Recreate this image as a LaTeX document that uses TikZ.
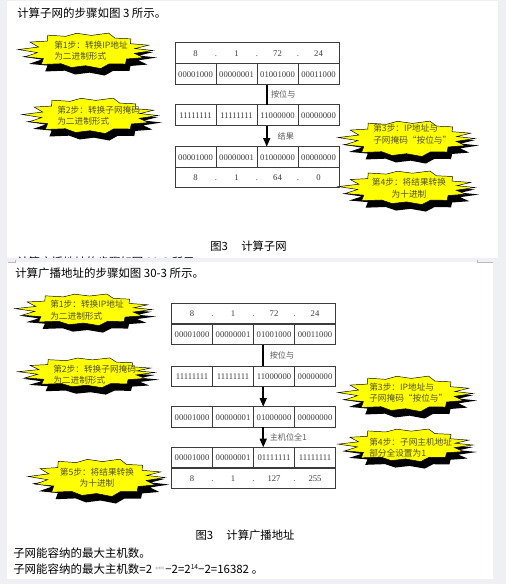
\documentclass[tikz,border=0pt]{standalone}
\usepackage{fontspec}
\setmainfont{Liberation Serif}
\newfontfamily\cjk{Noto Sans CJK SC}
\usetikzlibrary{arrows.meta,calc}
\definecolor{pagegray}{RGB}{238,240,244}
\definecolor{starfill}{RGB}{255,255,0}
\definecolor{startext}{RGB}{80,80,40}
\definecolor{tabline}{RGB}{60,60,60}
\definecolor{tabtext}{RGB}{60,60,60}
\definecolor{labelgray}{RGB}{90,90,90}
\definecolor{markgray}{RGB}{185,185,185}

\newcommand\sealshape[1]{%
  \path[#1] (0:0.50) -- (12:0.37) -- (24:0.47) -- (37:0.38) -- (51:0.47) -- (64:0.40)
   -- (77:0.50) -- (90:0.41) -- (103:0.47) -- (117:0.40) -- (131:0.50) -- (145:0.38)
   -- (159:0.48) -- (171:0.36) -- (183:0.50) -- (195:0.36) -- (209:0.47) -- (222:0.38)
   -- (236:0.50) -- (249:0.41) -- (262:0.47) -- (276:0.41) -- (290:0.50) -- (303:0.40)
   -- (317:0.46) -- (331:0.38) -- (343:0.49) -- (352:0.37) -- cycle;}
% #1 name, #2 x, #3 y, #4 w, #5 h
\newcommand\explosion[5]{%
  \begin{scope}[shift={({#2+#4/2+4},{#3+#5/2+7})},xscale=#4,yscale=#5]
    \sealshape{fill=black}
  \end{scope}
  \begin{scope}[shift={({#2+#4/2},{#3+#5/2})},xscale=#4,yscale=#5]
    \sealshape{fill=starfill,draw=black,line width=0.35pt}
  \end{scope}
  \coordinate (#1) at ({#2+#4/2},{#3+#5/2});
}
% binary row: #1 name, #2 x, #3 y, #4-#7 bytes
\newcommand\binrow[7]{%
  \node[cell] (#1-1) at (#2,#3) {#4};
  \node[cell] (#1-2) at ({#2+41},#3) {#5};
  \node[cell] (#1-3) at ({#2+82},#3) {#6};
  \node[cell] (#1-4) at ({#2+123},#3) {#7};
}
% decimal row
\newcommand\decrow[7]{%
  \node[decbox] (#1) at (#2,#3) {};
  \node[dtxt] (#1-1) at ($(#1.west)+(20.5,0)$) {#4};
  \node[dtxt] (#1-d1) at ($(#1.west)+(41,0)$) {.};
  \node[dtxt] (#1-2) at ($(#1.west)+(61.5,0)$) {#5};
  \node[dtxt] (#1-d2) at ($(#1.west)+(82,0)$) {.};
  \node[dtxt] (#1-3) at ($(#1.west)+(102.5,0)$) {#6};
  \node[dtxt] (#1-d3) at ($(#1.west)+(123,0)$) {.};
  \node[dtxt] (#1-4) at ($(#1.west)+(143.5,0)$) {#7};
}

\begin{document}
\begin{tikzpicture}[x=0.75pt,y=-0.75pt,
  cell/.style={draw=tabline,line width=0.75pt,minimum width=30.75pt,minimum height=15.4pt,
    inner sep=0pt,outer sep=0pt,anchor=north west,text=tabtext,
    font=\fontsize{6.5pt}{7pt}\selectfont,text height=4.6pt,text depth=0pt},
  decbox/.style={draw=tabline,line width=0.75pt,minimum width=123pt,minimum height=15.4pt,
    inner sep=0pt,outer sep=0pt,anchor=north west},
  dtxt/.style={inner sep=0pt,text=tabtext,font=\fontsize{6.5pt}{7pt}\selectfont,
    text height=4.6pt,text depth=0pt},
  link/.style={line width=1.3pt,black},
  tip/.style={-{Triangle[length=6.5pt,width=5.2pt]}},
  lbl/.style={midway,anchor=west,inner sep=0pt,text=labelgray,
    font=\cjk\fontsize{6.1pt}{7pt}\selectfont},
  startxt/.style={inner sep=0pt,text=startext,anchor=west,align=left,
    font=\cjk\fontsize{6.5pt}{8.6pt}\selectfont},
  starctr/.style={startxt,anchor=center,align=center},
  body/.style={inner sep=0pt,anchor=west,text=black,font=\cjk\fontsize{8.6pt}{10pt}\selectfont},
  captxt/.style={inner sep=0pt,text=black,font=\cjk\fontsize{8.5pt}{10pt}\selectfont}
]
\useasboundingbox (0,0) rectangle (506,584);
% page background
\fill[pagegray] (0,0) rectangle (506,584);
\fill[white] (7,1) rectangle (498,258);
\fill[white] (7,262) rectangle (493,579);
\draw[markgray,line width=0.5pt] (15,259.5) -- (15,262.3) -- (8,262.3);
\draw[markgray,line width=0.5pt] (477,259.5) -- (477,262.3) -- (493,262.3);
% partly hidden line between the pages
\begin{scope}
  \clip (7,250) rectangle (300,257.6);
  \node[body] (ghost) at (17,262.6) {计算广播地址的步骤如图 30-3 所示。};
\end{scope}

% ================= panel 1 =================
\node[body] (intro1) at (17,12.8) {计算子网的步骤如图 3 所示。};

\explosion{s1a}{18}{32}{135}{37}
\explosion{s1b}{22}{97}{136}{37}
\explosion{s1c}{338}{120}{137}{37}
\explosion{s1d}{338}{170}{137}{35}
\node[startxt] (s1at) at (54,50.5) {第1步：转换IP地址\\为二进制形式};
\node[startxt] (s1bt) at (57,115.5) {第2步：转换子网掩码\\为二进制形式};
\node[startxt] (s1ct) at (373,134) {第3步：IP地址与\\子网掩码“按位与”};
\node[starctr] (s1dt) at (409,188) {第4步：将结果转换\\为十进制};

\decrow{t1d}{175}{43}{8}{1}{72}{24}
\binrow{t1b}{175}{64}{00001000}{00000001}{01001000}{00011000}
\binrow{t2}{175}{105}{11111111}{11111111}{11000000}{00000000}
\binrow{t3b}{175}{146.7}{00001000}{00000001}{01000000}{00000000}
\decrow{t3d}{175}{167.3}{8}{1}{64}{0}

\draw[link] ([xshift=7.3pt]t1b-3.south west) -- node[lbl,xshift=2.6pt] (l1) {按位与} ([xshift=7.3pt]t2-3.north west);
\draw[link,tip] ([xshift=7.3pt]t2-3.south west) -- node[lbl,xshift=7.6pt] (l2) {结果} ([xshift=7.3pt]t3b-3.north west);

\node[captxt] (cap1) at (248.5,245.7) {图3\hspace{10pt}计算子网};

% ================= panel 2 =================
\node[body] (intro2) at (15,273) {计算广播地址的步骤如图 30-3 所示。};

\explosion{s2a}{15}{293}{137}{33}
\explosion{s2b}{18}{357}{137}{31}
\explosion{s2c}{338}{375}{135}{37}
\explosion{s2d}{338}{428}{135}{34}
\explosion{s2e}{28}{458}{137}{39}
\node[startxt] (s2at) at (50,310.4) {第1步：转换IP地址\\为二进制形式};
\node[startxt] (s2bt) at (53,374.5) {第2步：转换子网掩码\\为二进制形式};
\node[startxt] (s2ct) at (369,392.5) {第3步：IP地址与\\子网掩码“按位与”};
\node[startxt] (s2dt) at (369,447.5) {第4步：子网主机地址\\部分全设置为1};
\node[starctr] (s2et) at (97,477.5) {第5步：将结果转换\\为十进制};

\decrow{tAd}{171.5}{303.3}{8}{1}{72}{24}
\binrow{tAb}{171.5}{324}{00001000}{00000001}{01001000}{00011000}
\binrow{tB}{171.5}{366}{11111111}{11111111}{11000000}{00000000}
\binrow{tC}{171.5}{406.7}{00001000}{00000001}{01000000}{00000000}
\binrow{tDb}{171.5}{447.3}{00001000}{00000001}{01111111}{11111111}
\decrow{tDd}{171.5}{468.3}{8}{1}{127}{255}

\draw[link] ([xshift=7.3pt]tAb-3.south west) -- node[lbl,xshift=4.3pt] (l3) {按位与} ([xshift=7.3pt]tB-3.north west);
\draw[link,tip] ([xshift=7.3pt]tB-3.south west) -- ([xshift=7.3pt]tC-3.north west);
\draw[link,tip] ([xshift=7.3pt]tC-3.south west) -- node[lbl,xshift=4.3pt] (l4) {主机位全1} ([xshift=7.3pt]tDb-3.north west);

\node[captxt] (cap2) at (245,535) {图3\hspace{10pt}计算广播地址};
\node[body] (line1) at (13,552.7) {子网能容纳的最大主机数。};
\node[body] (line2) at (13,569) {子网能容纳的最大主机数=2\hspace{2.5pt}\raisebox{3.2pt}{\color{gray}\fontsize{2.2pt}{2.5pt}\selectfont 主机位}\hspace{0.8pt}−2=2\raisebox{3pt}{\fontsize{5pt}{5pt}\selectfont 14}−2=16382\hspace{2pt}。};
\end{tikzpicture}
\end{document}
